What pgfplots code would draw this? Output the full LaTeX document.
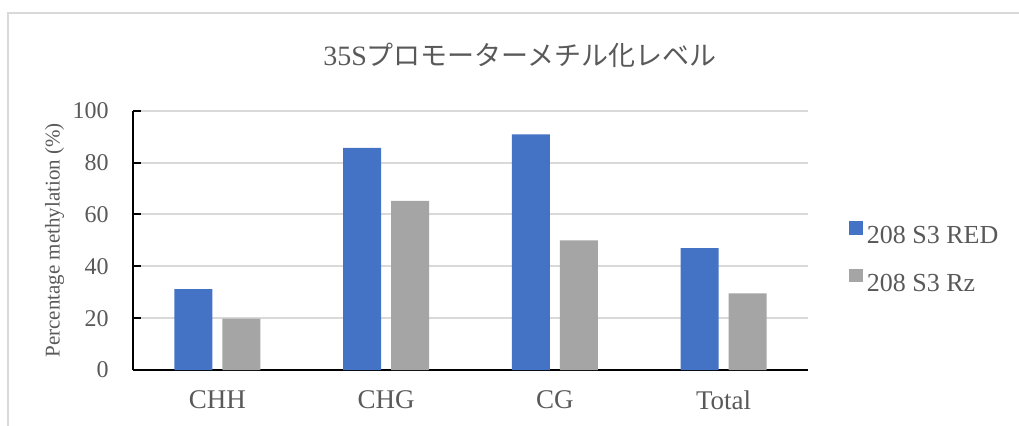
\documentclass[border=0pt]{standalone}
\usepackage{fontspec}
\setmainfont{Liberation Serif}
\newfontfamily\cjk{Noto Sans CJK JP}
\usepackage{pgfplots}
\pgfplotsset{compat=1.18}
\definecolor{cblue}{HTML}{4472C4}
\definecolor{cgray}{HTML}{A5A5A5}
\definecolor{ctext}{HTML}{595959}
\definecolor{cgrid}{HTML}{D9D9D9}
\pgfplotsset{sqlegend/.style={legend image code/.code={\fill[##1] (0pt,0.9pt) rectangle (6.8pt,7.7pt);}}}
\begin{document}
\begin{tikzpicture}
\useasboundingbox (0,0) rectangle (509.5pt,212.5pt);
\draw[cgrid, line width=0.9pt] (4pt,-5pt) -- (4pt,206.15pt) -- (515pt,206.15pt);
\node[anchor=base, text=ctext, font=\rmfamily\fontsize{14}{16}\selectfont, inner sep=0pt] at (260pt,179.65pt) {35S{\cjk\fontsize{13.5}{16}\selectfont プロモーターメチル化レベル}};
\begin{axis}[
  at={(66.5pt,27.5pt)}, anchor=south west,
  scale only axis, width=337.5pt, height=129.65pt,
  ybar=5pt, bar width=19pt,
  xmin=-0.5, xmax=3.5, ymin=0, ymax=100,
  xtick={0,1,2,3}, xticklabels={CHH,CHG,CG,Total},
  ytick={0,20,40,60,80,100},
  axis x line*=bottom, axis y line*=left,
  axis line style={black, line width=1pt},
  tick align=inside,
  major tick length=4pt,
  major x tick style={draw=none},
  major y tick style={black, line width=1pt},
  ymajorgrids, grid style={cgrid, line width=1pt},
  /pgf/number format/assume math mode=true,
  ticklabel style={text=ctext},
  yticklabel style={font=\rmfamily\fontsize{12}{14}\selectfont, inner sep=0pt, xshift=-12pt},
  xticklabel style={font=\rmfamily\fontsize{13.5}{16}\selectfont, inner sep=0pt, yshift=-10pt},
  ylabel={Percentage methylation (\%)},
  ylabel style={at={(axis description cs:-0.116,0.5)}, anchor=center, text=ctext, font=\rmfamily\fontsize{10.5}{12}\selectfont},
  legend style={at={(axis description cs:1.0607,0.43)}, anchor=west, draw=none, fill=none,
    font=\rmfamily\fontsize{13}{15}\selectfont, text=ctext, inner sep=0pt, row sep=10pt, column sep=1pt,
    nodes={inner sep=1pt}},
  legend cell align=left,
]
\addplot[fill=cblue, draw=none, sqlegend] coordinates {(0,31.2) (1,85.7) (2,90.9) (3,47.0)};
\addplot[fill=cgray, draw=none, sqlegend] coordinates {(0,19.8) (1,65.2) (2,50.0) (3,29.6)};
\legend{208 S3 RED, 208 S3 Rz}
\end{axis}
\end{tikzpicture}
\end{document}
